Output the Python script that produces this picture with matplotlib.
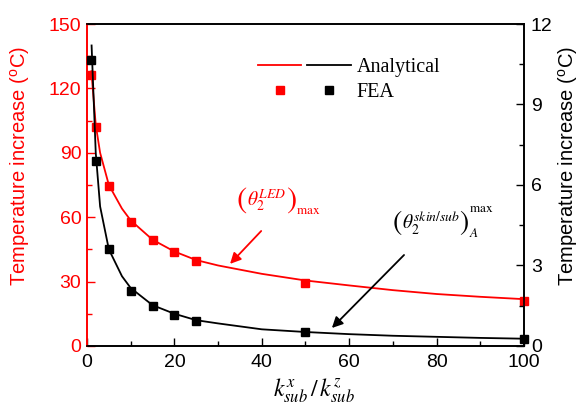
import matplotlib
matplotlib.use("Agg")
import matplotlib.pyplot as plt
from matplotlib.legend_handler import HandlerTuple

plt.rcParams['font.family'] = ['Liberation Sans', 'DejaVu Sans']
plt.rcParams['mathtext.fontset'] = 'stix'

# FEA data
fea_x = [1, 2, 5, 10, 15, 20, 25, 50, 100]
fea_led = [126.2, 101.8, 74.7, 57.6, 49.2, 43.6, 39.6, 29.2, 21.0]          # left axis (°C)
fea_skin = [10.66, 6.90, 3.60, 2.06, 1.49, 1.15, 0.93, 0.51, 0.25]          # right axis (°C)

# Analytical curves
ana_x = [1, 2, 3, 5, 8, 10, 15, 20, 25, 30, 40, 50, 60, 70, 80, 90, 100]
ana_led = [128, 103, 90, 75, 64, 58.5, 49.5, 44, 40, 37.5, 33.6, 30.5, 28.2, 26.0, 24.2, 22.9, 21.8]
ana_skin_x = [1.05, 2, 3, 5, 8, 10, 15, 20, 25, 30, 40, 50, 60, 70, 80, 90, 100]
ana_skin = [11.2, 7.2, 5.2, 3.6, 2.6, 2.16, 1.52, 1.2, 0.96, 0.84, 0.62, 0.52, 0.44, 0.38, 0.34, 0.30, 0.27]

xticks = [0, 20, 40, 60, 80, 100]
yticks_left = [0, 30, 60, 90, 120, 150]
yticks_right = [0, 3, 6, 9, 12]

fig = plt.figure(figsize=(5.8, 4.07), dpi=100)
ax = fig.add_axes([0.150, 0.150, 0.7534, 0.791])
ax2 = ax.twinx()

red = '#ff0000'
l1, = ax.plot(ana_x, ana_led, color=red, lw=1.3, zorder=3)
m1, = ax.plot(fea_x, fea_led, 's', color=red, ms=6, lw=0, zorder=4, clip_on=False)
l2, = ax2.plot(ana_skin_x, ana_skin, color='black', lw=1.3, zorder=3)
m2, = ax2.plot(fea_x, fea_skin, 's', color='black', ms=6, lw=0, zorder=4, clip_on=False)

ax.set_xlim(0, 100)
ax.set_ylim(0, 150)
ax2.set_ylim(0, 12)
ax.set_xticks(xticks)
ax.set_xticks([10, 30, 50, 70, 90], minor=True)
ax.set_yticks(yticks_left)
ax.set_yticks([15, 45, 75, 105, 135], minor=True)
ax2.set_yticks(yticks_right)
ax2.set_yticks([1.5, 4.5, 7.5, 10.5], minor=True)

fs = 14
ax.tick_params(axis='x', which='both', direction='in', top=False, labelsize=fs, pad=6)
ax.tick_params(axis='x', which='major', length=6, width=1)
ax.tick_params(axis='x', which='minor', length=3.5, width=1)
ax.tick_params(axis='y', which='both', direction='in', colors=red, labelsize=fs, pad=4)
ax.tick_params(axis='y', which='major', length=6, width=1)
ax.tick_params(axis='y', which='minor', length=3.5, width=1)
ax2.tick_params(axis='y', which='both', direction='in', labelsize=fs, pad=5)
ax2.tick_params(axis='y', which='major', length=6, width=1)
ax2.tick_params(axis='y', which='minor', length=3.5, width=1)

for a in (ax, ax2):
    for s in a.spines.values():
        s.set_linewidth(1.2)
ax2.spines['left'].set_color(red)
ax.spines['left'].set_color(red)

ylab = 'Temperature increase ($^{\\mathregular{o}}$C)'
ax.set_ylabel(ylab, color=red, fontsize=14.5)
ax.yaxis.set_label_coords(-0.126, 0.56)
ax2.set_ylabel(ylab, color='black', fontsize=14.5)
ax2.yaxis.set_label_coords(1.074, 0.56)
ax.set_xlabel(r'$k_{sub}^{x}\,/\,k_{sub}^{z}$', fontsize=17)
ax.xaxis.set_label_coords(0.52, -0.095)

# Legend
leg = ax.legend([(l1, l2), (m1, m2)], ['Analytical', 'FEA'],
                handler_map={tuple: HandlerTuple(ndivide=None, pad=0.3)},
                loc='upper left', bbox_to_anchor=(0.368, 0.925), frameon=False,
                prop={'family': 'Liberation Serif', 'size': 14.5},
                handlelength=4.6, handletextpad=0.3, labelspacing=0.3, borderpad=0)

# Annotations (built from pieces so the parentheses can be large)
PX = 0.72  # points per pixel at 100 dpi


def piece(txt, anchor, dx, dy, size, color):
    ax.annotate(txt, xy=anchor, xycoords='data', xytext=(dx * PX, dy * PX),
                textcoords='offset points', ha='left', va='center',
                fontsize=size, color=color, family='Liberation Serif')


a_red = (34.3, 68.0)
piece(r'$($', a_red, -1, 0, 22, red)
piece(r'$\theta_2^{LED}$', a_red, 10, 0, 14, red)
piece(r'$)$', a_red, 49, 0, 22, red)
piece(r'$\mathrm{max}$', a_red, 59, -11, 9.5, red)
ax.annotate('', xy=(32.3, 37.3), xytext=(40.3, 54.5),
            arrowprops=dict(arrowstyle='-|>', color=red, lw=1.3, mutation_scale=16))

a_blk = (70.0, 57.3)
piece(r'$($', a_blk, -1, 0, 20, 'black')
piece(r'$\theta_2^{skin/sub}$', a_blk, 9, 0, 14, 'black')
piece(r'$)$', a_blk, 66, 0, 20, 'black')
piece(r'$\mathrm{max}$', a_blk, 76, 14, 9.5, 'black')
piece(r'$A$', a_blk, 76, -11, 9.5, 'black')
ax.annotate('', xy=(55.6, 7.45), xytext=(73.0, 43.3),
            arrowprops=dict(arrowstyle='-|>', color='black', lw=1.3, mutation_scale=16))

fig.savefig('out.png', dpi=100)
